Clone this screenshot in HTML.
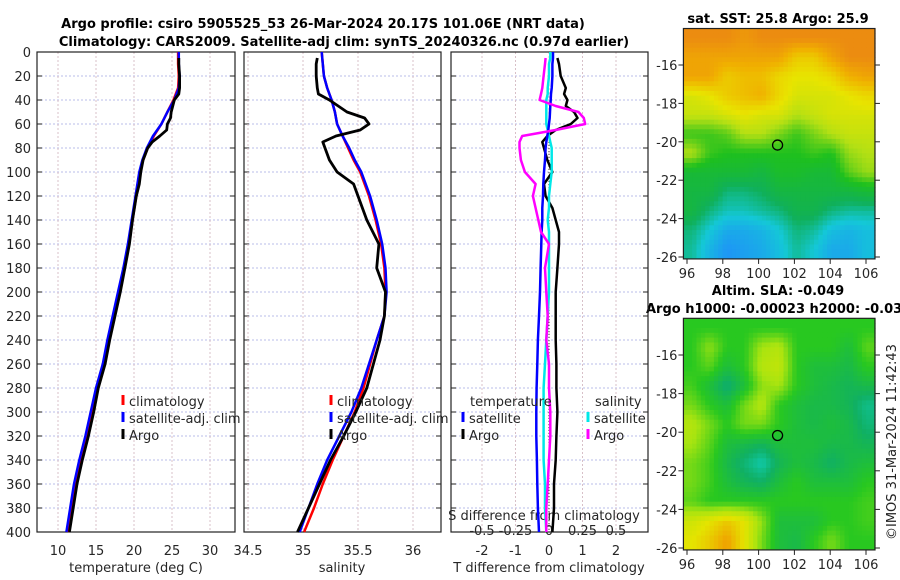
<!DOCTYPE html>
<html><head><meta charset="utf-8"><style>
html,body{margin:0;padding:0;background:#fff;}
svg{display:block;font-family:"DejaVu Sans","Liberation Sans",sans-serif;}
</style></head><body>
<svg id="chart" width="900" height="580" viewBox="0 0 900 580" xmlns="http://www.w3.org/2000/svg">
<text x="323" y="28" text-anchor="middle" font-size="13" font-weight="bold" fill="#000">Argo profile: csiro 5905525_53 26-Mar-2024 20.17S 101.06E (NRT data)</text>
<text x="344" y="46" text-anchor="middle" font-size="13" font-weight="bold" fill="#000">Climatology: CARS2009. Satellite-adj clim: synTS_20240326.nc (0.97d earlier)</text>
<text x="778" y="23" text-anchor="middle" font-size="13" font-weight="bold">sat. SST: 25.8 Argo: 25.9</text>
<text x="778" y="295" text-anchor="middle" font-size="13" font-weight="bold">Altim. SLA: -0.049</text>
<text x="646" y="313" font-size="13" font-weight="bold">Argo h1000: -0.00023 h2000: -0.03</text>
<text transform="translate(896,540) rotate(-90)" font-size="13" fill="#222">©IMOS 31-Mar-2024 11:42:43</text>
<g id="layer"></g>
</svg>
<script>
// ---- profile data ----
const depths = [0,10,20,30,40,50,60,70,80,90,100,120,140,160,180,200,220,240,260,280,300,320,340,360,380,400];
const tClim = [25.8,25.8,25.9,25.8,25.2,24.4,23.6,22.6,21.8,21.2,20.8,20.3,19.8,19.3,18.7,18.0,17.3,16.6,16.0,15.1,14.5,13.8,13.0,12.3,11.8,11.3];
const tSat = [25.9,25.9,26.0,25.9,25.3,24.4,23.6,22.5,21.7,21.1,20.7,20.2,19.7,19.2,18.6,17.9,17.2,16.5,15.9,15.0,14.3,13.6,12.8,12.1,11.6,11.1];
const sClim = [35.17,35.18,35.19,35.22,35.26,35.29,35.31,35.36,35.41,35.46,35.52,35.60,35.66,35.71,35.74,35.75,35.74,35.67,35.61,35.55,35.47,35.37,35.27,35.18,35.10,35.01];
const sSat = [35.17,35.18,35.19,35.22,35.26,35.29,35.31,35.36,35.42,35.47,35.53,35.61,35.67,35.72,35.75,35.76,35.74,35.67,35.60,35.53,35.44,35.33,35.22,35.13,35.05,34.97];
const argoDepths = [5,10,20,30,35,40,50,55,60,65,70,75,80,90,100,110,120,140,160,180,200,220,240,260,280,300,320,340,360,380,400];
const tArgo = [25.9,25.9,26.0,26.0,25.9,25.3,24.9,24.8,24.4,24.3,23.4,22.4,21.8,21.2,20.9,20.7,20.3,19.8,19.4,18.8,18.2,17.5,16.8,16.2,15.3,14.7,14.0,13.2,12.5,12.0,11.5];
const sArgo = [35.13,35.12,35.12,35.13,35.14,35.24,35.40,35.56,35.60,35.52,35.30,35.18,35.20,35.24,35.31,35.46,35.50,35.58,35.69,35.67,35.75,35.74,35.70,35.64,35.58,35.48,35.37,35.25,35.15,35.05,34.95];
// ---- difference data ----
const dDepths = [0,5,10,20,30,35,40,45,50,55,60,65,70,75,80,90,100,110,120,130,140,150,160,180,200,220,240,260,280,300,320,340,360,380,400];
const tDiffSat = [0.12,0.12,0.1,0.1,0.08,0.06,0.05,0.04,0.03,0.02,0.0,-0.02,-0.05,-0.08,-0.1,-0.12,-0.15,-0.17,-0.18,-0.2,-0.2,-0.22,-0.23,-0.25,-0.27,-0.3,-0.33,-0.35,-0.37,-0.38,-0.38,-0.36,-0.35,-0.33,-0.3];
const sDiffSat = [0.01,0.01,0.0,0.0,-0.01,-0.01,-0.02,-0.02,-0.02,-0.02,-0.02,-0.01,0,0.01,0.02,0.02,0.02,0.01,0.0,0.0,-0.01,0,0,0,0,-0.01,-0.02,-0.03,-0.04,-0.04,-0.04,-0.04,-0.03,-0.03,-0.02];
const tDiffArgo = [null,0.25,0.3,0.35,0.5,0.45,0.55,0.5,0.75,0.85,0.65,0.2,-0.05,-0.2,-0.15,-0.05,0.1,-0.15,-0.1,0.1,0.2,0.3,0.3,0.25,0.2,0.2,0.2,0.22,0.22,0.25,0.22,0.2,0.15,0.15,0.1];
const sDiffArgo = [null,-0.025,-0.03,-0.04,-0.05,-0.06,-0.07,0.05,0.22,0.26,0.27,0.05,-0.2,-0.22,-0.22,-0.21,-0.18,-0.1,-0.12,-0.1,-0.08,-0.06,0.0,-0.03,-0.02,-0.01,-0.02,0.0,0.0,0.01,0.01,0.0,-0.01,-0.02,-0.02];
// ---- ticks ----
const depthTicks = [0,20,40,60,80,100,120,140,160,180,200,220,240,260,280,300,320,340,360,380,400];
const tempTicks = [10,15,20,25,30];
const salTicks = [34.5,35,35.5,36];
const salTickLabels = ["34.5","35","35.5","36"];
const tdTicks = [-2,-1,0,1,2];
const sdTicks = [-0.5,-0.25,0,0.25,0.5];
const sdTickLabels = ["-0.5","-0.25","0","0.25","0.5"];
const lonTicks = [96,98,100,102,104,106];
const latTicks = [-16,-18,-20,-22,-24,-26];
// ---- map grids (rows top->bottom, lat -14.1..-26.1; cols lon 95.8..106.5) ----
const sstGrid = [
[27,27,27,26.9,27,27,27,27,27,27,27],
[26.8,26.8,26.8,26.8,26.8,26.8,26.5,26.5,26.8,27,27],
[26.8,26.8,26.5,26.6,26.6,26.4,26.3,26.3,26.4,26.7,26.8],
[26.2,26.3,26.5,26.6,26.7,26.4,26.2,26.2,26.2,26.3,26.4],
[26.1,26.1,26.2,26.3,26.2,26.2,26.0,26.1,26.2,26.2,26.2],
[25.6,25.6,25.7,26,26,25.8,25.6,25.8,26,26.1,26.1],
[26.0,25.6,25.5,25.5,25.5,25.5,25.5,25.6,25.5,25.9,26.0],
[25.3,25.3,25.3,25.3,25.2,25.4,25.4,25.3,25.3,25.7,25.9],
[25.2,25.2,24.9,24.9,25,25.2,25.2,25.2,25.2,25.2,25.3],
[25.2,24.9,24.7,24.7,24.8,24.9,25.1,25.1,24.9,24.8,24.8],
[24.9,24.6,24.3,24.3,24.4,24.6,24.9,24.8,24.5,24.4,24.5],
[24.8,24.4,24.1,24.2,24.3,24.5,24.8,24.6,24.3,24.3,24.5]];
const slaGrid = [
[0,0,0,0,0,0,0,0,0,0,0],
[0,0.04,0,0,0.05,0.06,0,0,0,-0.02,0.02],
[0,0.02,-0.02,0,0.06,0.07,0,-0.02,-0.02,-0.03,0],
[0.01,-0.02,-0.06,-0.02,0.04,0.05,0,-0.02,-0.03,-0.04,-0.03],
[0.03,0,-0.02,0.03,0.06,0,-0.02,-0.03,-0.03,-0.04,-0.07],
[0.06,0.03,0,0.03,0.03,0,-0.02,-0.03,-0.02,-0.03,-0.06],
[0.05,0.02,-0.02,-0.03,-0.04,-0.02,-0.02,-0.02,-0.03,-0.03,-0.04],
[0.03,0.01,-0.03,-0.06,-0.09,-0.04,-0.02,-0.03,-0.05,-0.03,-0.02],
[0.03,0.01,-0.02,-0.04,-0.05,-0.02,0,-0.02,-0.02,-0.02,0],
[0.02,0,0,0,0,0,0,0,0,0,0.01],
[0.08,0.1,0.12,0.1,0.04,-0.02,-0.02,-0.02,0,0,0.01],
[0.1,0.12,0.15,0.1,0.03,-0.02,-0.03,0,0.03,0,0]];
const argoLon = 101.06, argoLat = -20.17;

const NS = "http://www.w3.org/2000/svg";
const layer = document.getElementById("layer");
function mk(tag, attrs, parent){ const e=document.createElementNS(NS,tag); for(const k in attrs) e.setAttribute(k,attrs[k]); (parent||layer).appendChild(e); return e; }
function lin(d0,d1,r0,r1){ return v=>r0+(v-d0)*(r1-r0)/(d1-d0); }

const PY0=52, PY1=532;
const yD = lin(0,400,PY0,PY1);
const panels = [
 {name:"temperature-panel", x0:37, x1:235, xs:lin(10,20,58,134)},
 {name:"salinity-panel", x0:244, x1:441, xs:lin(34.5,35.5,248,358)},
 {name:"difference-panel", x0:451, x1:648, xs:lin(0,1,549,582.5)}
];
const TXT="#262626";
panels.forEach((p,i)=>{
  const g = mk("g",{});
  
  
  depthTicks.forEach(d=>{
    const l=mk("line",{x1:p.x0,x2:p.x1,y1:yD(d),y2:yD(d),stroke:"#b8bce8","stroke-width":1,"stroke-dasharray":"2,2"},g);
    
    
    mk("line",{x1:p.x0,x2:p.x0+5,y1:yD(d),y2:yD(d),stroke:"#222"},g);
    mk("line",{x1:p.x1-5,x2:p.x1,y1:yD(d),y2:yD(d),stroke:"#222"},g);
  });
  const xt = i===0?tempTicks:(i===1?salTicks:tdTicks);
  xt.forEach(v=>{
    const x=p.xs(v);
    const l=mk("line",{x1:x,x2:x,y1:PY0,y2:PY1,stroke:"#d8c0c8","stroke-width":1,"stroke-dasharray":"2,2"},g);
    
    
  });
  const fr=mk("rect",{x:p.x0,y:PY0,width:p.x1-p.x0,height:PY1-PY0,fill:"none",stroke:"#222","stroke-width":1.2},g);
  
  
});
depthTicks.forEach(d=>{
  const t=mk("text",{x:31,y:yD(d)+5,"text-anchor":"end","font-size":13,fill:TXT});
  t.textContent=d;
  
  
});
tempTicks.forEach(v=>{ const t=mk("text",{x:panels[0].xs(v),y:555,"text-anchor":"middle","font-size":13,fill:TXT}); t.textContent=v;
  
   });
salTicks.forEach((v,k)=>{ const t=mk("text",{x:panels[1].xs(v),y:555,"text-anchor":"middle","font-size":13,fill:TXT}); t.textContent=salTickLabels[k];
  
   });
tdTicks.forEach(v=>{ const t=mk("text",{x:panels[2].xs(v),y:555,"text-anchor":"middle","font-size":13,fill:TXT}); t.textContent=v;
  
   });
const xsS = v=>panels[2].xs(v*4);
sdTicks.forEach((v,k)=>{ const t=mk("text",{x:xsS(v),y:535,"text-anchor":"middle","font-size":13,fill:TXT}); t.textContent=sdTickLabels[k];
  
   });
[["temperature (deg C)",136,"temperature-axis-title"],["salinity",342,"salinity-axis-title"],["T difference from climatology",549,"t-diff-axis-title"]].forEach(a=>{
  const t=mk("text",{x:a[1],y:572,"text-anchor":"middle","font-size":13,fill:TXT}); t.textContent=a[0];
  
  
});
{ const t=mk("text",{x:544,y:520,"text-anchor":"middle","font-size":13,fill:TXT}); t.textContent="S difference from climatology";
  
   }

function series(xs, ys, vals, color, name, w){
  let d="", started=false;
  vals.forEach((v,k)=>{ if(v===null) return; d+=(started?"L":"M")+xs(v).toFixed(1)+","+yD(ys[k]).toFixed(1); started=true; });
  const p=mk("path",{d:d,fill:"none",stroke:color,"stroke-width":w||2.5,"stroke-linejoin":"round"});
  
  
}
{ const l=mk("line",{x1:panels[2].xs(0),x2:panels[2].xs(0),y1:yD(60),y2:PY1,stroke:"#333","stroke-width":1,"stroke-dasharray":"1,2"});
  
   }
series(panels[0].xs, depths, tClim, "#ff0000", "temperature-climatology-line");
series(panels[0].xs, depths, tSat, "#0000ff", "temperature-satellite-line");
series(panels[0].xs, argoDepths, tArgo, "#000", "temperature-argo-line",2.8);
series(panels[1].xs, depths, sClim, "#ff0000", "salinity-climatology-line");
series(panels[1].xs, depths, sSat, "#0000ff", "salinity-satellite-line");
series(panels[1].xs, argoDepths, sArgo, "#000", "salinity-argo-line",2.8);
series(panels[2].xs, dDepths, tDiffArgo, "#000", "t-diff-argo-line",2.5);
series(xsS, dDepths, sDiffSat, "#00e8e8", "s-diff-satellite-line",2.5);
series(panels[2].xs, dDepths, tDiffSat, "#0000ff", "t-diff-satellite-line",2.5);
series(xsS, dDepths, sDiffArgo, "#ff00ff", "s-diff-argo-line",2.5);

function legendItem(x,y,color,label,name){
  const g=mk("g",{});
  
  
  mk("line",{x1:x,x2:x,y1:y-11,y2:y-1,stroke:color,"stroke-width":3},g);
  const t=mk("text",{x:x+6,y:y,"font-size":13,fill:TXT},g); t.textContent=label;
}
legendItem(123,406,"#ff0000","climatology","legend-t-climatology");
legendItem(123,423,"#0000ff","satellite-adj. clim","legend-t-satellite");
legendItem(123,440,"#000","Argo","legend-t-argo");
legendItem(331,406,"#ff0000","climatology","legend-s-climatology");
legendItem(331,423,"#0000ff","satellite-adj. clim","legend-s-satellite");
legendItem(331,440,"#000","Argo","legend-s-argo");
{ const t=mk("text",{x:470,y:406,"font-size":13,fill:TXT}); t.textContent="temperature";
  
   }
{ const t=mk("text",{x:595,y:406,"font-size":13,fill:TXT}); t.textContent="salinity";
  
   }
legendItem(463,423,"#0000ff","satellite","legend-td-satellite");
legendItem(463,440,"#000","Argo","legend-td-argo");
legendItem(588,423,"#00e8e8","satellite","legend-sd-satellite");
legendItem(588,440,"#ff00ff","Argo","legend-sd-argo");

function interpColor(stops, v){
  if(v<=stops[0][0]) return stops[0][1];
  for(let k=1;k<stops.length;k++){
    if(v<=stops[k][0]){
      const a=stops[k-1], b=stops[k], f=(v-a[0])/(b[0]-a[0]);
      return a[1].map((x,j)=>Math.round(x+(b[1][j]-x)*f));
    }
  }
  return stops[stops.length-1][1];
}
const sstStops=[[24.1,[30,150,245]],[24.6,[20,200,215]],[25.0,[16,176,90]],[25.5,[30,192,30]],[26.0,[180,224,20]],[26.3,[232,228,0]],[26.7,[240,176,0]],[27.0,[236,140,16]]];
const slaStops=[[-0.1,[16,208,190]],[-0.05,[16,176,100]],[0,[40,200,32]],[0.05,[168,228,16]],[0.1,[228,228,0]],[0.15,[240,160,0]]];
function sample(grid, fr, fc){
  const R=grid.length, C=grid[0].length;
  const r=Math.min(Math.max(fr-0.5,0),R-1), c=Math.min(Math.max(fc-0.5,0),C-1);
  const r0=Math.floor(r), c0=Math.floor(c), r1=Math.min(r0+1,R-1), c1=Math.min(c0+1,C-1);
  const a=r-r0, b=c-c0;
  return grid[r0][c0]*(1-a)*(1-b)+grid[r0][c1]*(1-a)*b+grid[r1][c0]*a*(1-b)+grid[r1][c1]*a*b;
}
function drawMap(cfg){
  const g=mk("g",{});
  
  
  const xl=lin(96,106,687,866), yl=lin(-16,-26,cfg.y16,cfg.y26);
  const lon0=95.8, lon1=106.5, lat0=-14.1, lat1=-26.1;
  const rows=cfg.grid.length, cols=cfg.grid[0].length;
  const SUB=4;
  const dLon=(lon1-lon0)/(cols*SUB), dLat=(lat1-lat0)/(rows*SUB);
  for(let r=0;r<rows*SUB;r++){
    for(let c=0;c<cols*SUB;c++){
      const v=sample(cfg.grid,(r+0.5)/SUB,(c+0.5)/SUB);
      const x=xl(lon0+c*dLon), y=yl(lat0+r*dLat);
      const col=interpColor(cfg.stops,v);
      const cell=mk("rect",{x:x.toFixed(1),y:y.toFixed(1),width:(xl(lon0+(c+1)*dLon)-x+0.6).toFixed(1),height:(yl(lat0+(r+1)*dLat)-y+0.6).toFixed(1),fill:"rgb("+col.join(",")+")"},g);
      
      
    }
  }
  const X0=xl(lon0), X1=xl(lon1), Y0=yl(lat0), Y1=yl(lat1);
  mk("rect",{x:X0,y:Y0,width:X1-X0,height:Y1-Y0,fill:"none",stroke:"#222","stroke-width":1.2},g);
  latTicks.forEach(v=>{
    const y=yl(v);
    mk("line",{x1:X0-5,x2:X0,y1:y,y2:y,stroke:"#222"},g);
    mk("line",{x1:X1,x2:X1+5,y1:y,y2:y,stroke:"#222"},g);
    const t=mk("text",{x:X0-6,y:y+5,"text-anchor":"end","font-size":13,fill:TXT},g); t.textContent=v;
    
    
  });
  lonTicks.forEach(v=>{
    const x=xl(v);
    mk("line",{x1:x,x2:x,y1:Y1,y2:Y1+5,stroke:"#222"},g);
    const t=mk("text",{x:x,y:Y1+19,"text-anchor":"middle","font-size":13,fill:TXT},g); t.textContent=v;
    
    
  });
  const m=mk("circle",{cx:xl(argoLon),cy:yl(argoLat),r:5,fill:"none",stroke:"#000","stroke-width":1.3},g);
  
  
}
drawMap({name:"sst-map",grid:sstGrid,stops:sstStops,y16:65,y26:257});
drawMap({name:"sla-map",grid:slaGrid,stops:slaStops,y16:355,y26:548});
</script>
</body></html>
